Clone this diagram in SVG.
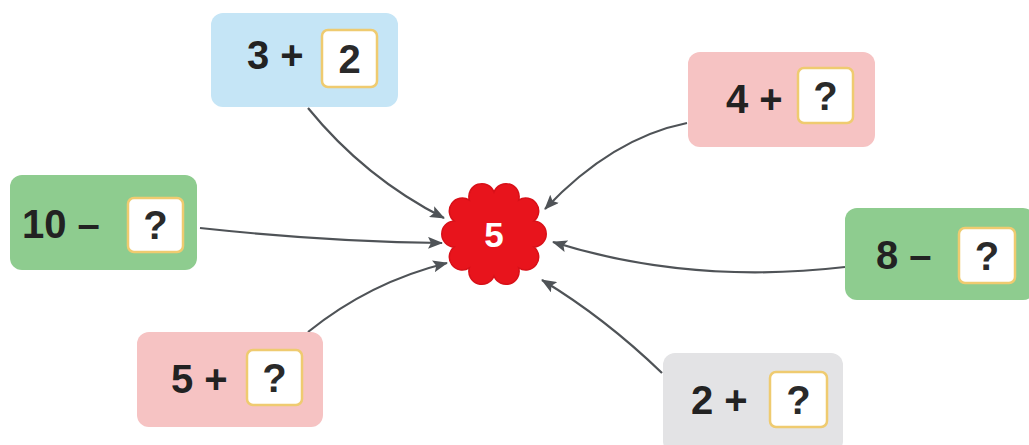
<svg xmlns="http://www.w3.org/2000/svg" width="1029" height="445" viewBox="0 0 1029 445">
<style>
.box{stroke:none}
.blue{fill:#c5e5f6}
.pink{fill:#f6c3c3}
.green{fill:#8ecc8f}
.gray{fill:#e3e3e5}
.slot{fill:#ffffff;stroke:#efcb70;stroke-width:2.5}
.t{font-family:"Liberation Sans",Arial,sans-serif;font-weight:bold;font-size:40px;fill:#222}
.q{font-family:"Liberation Sans",Arial,sans-serif;font-weight:bold;font-size:40px;fill:#2a2a2a;text-anchor:middle}
.conn{fill:none;stroke:#4f5357;stroke-width:2.2;marker-end:url(#ah)}
</style>
<defs>
<marker id="ah" markerUnits="userSpaceOnUse" markerWidth="16" markerHeight="12" refX="14" refY="6" orient="auto">
<path d="M0,0 L15,6 L0,12 L3,6 z" fill="#4f5357"/>
</marker>
</defs>
<rect width="1029" height="445" fill="#ffffff"/>
<g id="connectors">
<path class="conn" d="M308,108 Q365,178 444,218"/>
<path class="conn" d="M687,123 Q612,138 545,209"/>
<path class="conn" d="M200,228 Q330,242 442,243"/>
<path class="conn" d="M845,267 Q690,285 553,242"/>
<path class="conn" d="M308,332 Q370,282 447,263"/>
<path class="conn" d="M662,373 Q605,318 542,280"/>
</g>
<g id="center">
<path d="M494,192 A13,13 0 0 1 518.69,200.02 A13,13 0 0 1 533.94,221.02 A13,13 0 0 1 533.94,246.98 A13,13 0 0 1 518.69,267.98 A13,13 0 0 1 494,276 A13,13 0 0 1 469.31,267.98 A13,13 0 0 1 454.06,246.98 A13,13 0 0 1 454.06,221.02 A13,13 0 0 1 469.31,200.02 A13,13 0 0 1 494,192 z" fill="#e8141c" stroke="#d81018" stroke-width="1.5"/>
<text x="494" y="247" font-family="Liberation Sans, Arial, sans-serif" font-weight="bold" font-size="35" fill="#ffffff" text-anchor="middle">5</text>
</g>
<g id="n1">
<rect class="box blue" x="211" y="13" width="187" height="94" rx="12"/>
<text class="t" x="247" y="69">3 +</text>
<rect class="slot" x="322" y="30" width="55" height="57" rx="6"/>
<text class="q" x="349.5" y="73">2</text>
</g>
<g id="n2">
<rect class="box pink" x="688" y="52" width="187" height="95" rx="12"/>
<text class="t" x="726" y="113">4 +</text>
<rect class="slot" x="798" y="68" width="55" height="55" rx="6"/>
<text class="q" x="825.5" y="110">?</text>
</g>
<g id="n3">
<rect class="box green" x="10" y="175" width="187" height="95" rx="12"/>
<text class="t" x="22" y="238">10 –</text>
<rect class="slot" x="128" y="198" width="55" height="54" rx="6"/>
<text class="q" x="155.5" y="239">?</text>
</g>
<g id="n4">
<rect class="box green" x="845" y="208" width="190" height="92" rx="12"/>
<text class="t" x="876" y="269">8 –</text>
<rect class="slot" x="959" y="228" width="56" height="55" rx="6"/>
<text class="q" x="987" y="270">?</text>
</g>
<g id="n5">
<rect class="box pink" x="137" y="332" width="186" height="95" rx="12"/>
<text class="t" x="171" y="393">5 +</text>
<rect class="slot" x="247" y="350" width="55" height="55" rx="6"/>
<text class="q" x="274.5" y="392">?</text>
</g>
<g id="n6">
<rect class="box gray" x="663" y="353" width="180" height="100" rx="12"/>
<text class="t" x="691" y="414">2 +</text>
<rect class="slot" x="770" y="372" width="57" height="55" rx="6"/>
<text class="q" x="798.5" y="414">?</text>
</g>
</svg>
